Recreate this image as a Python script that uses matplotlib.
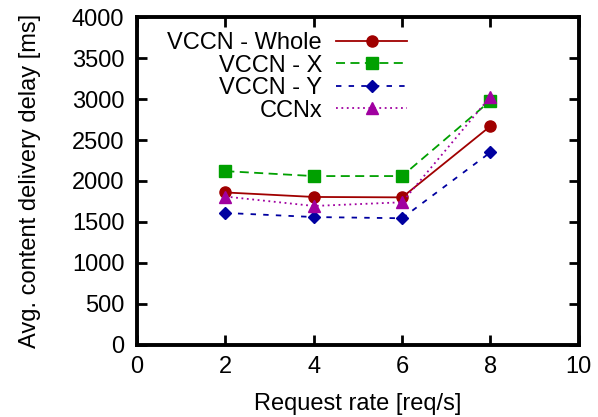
import numpy as np
import matplotlib.pyplot as plt

plt.rcParams['font.family'] = ['Liberation Sans', 'DejaVu Sans']

rate = [2, 4, 6, 8]
whole = [1860, 1805, 1800, 2670]
vx = [2120, 2060, 2060, 2980]
vy = [1610, 1560, 1545, 2350]
ccnx = [1810, 1695, 1740, 3030]

fig = plt.figure(figsize=(5.98, 4.17), dpi=100)
ax = fig.add_axes([0.229, 0.173, 0.739, 0.786])

ax.plot(rate, whole, color='#a00000', ls='-', lw=1.3, marker='o', ms=8, label='VCCN - Whole')
ax.plot(rate, vx, color='#00a000', ls=(0, (5, 3)), lw=1.3, marker='s', ms=8, label='VCCN - X')
ax.plot(rate, vy, color='#0000a0', ls=(0, (3, 4)), lw=1.3, marker='D', ms=6, label='VCCN - Y')
ax.plot(rate, ccnx, color='#a000a0', ls=(0, (1, 2)), lw=1.3, marker='^', ms=8, label='CCNx')

ax.set_xlim(0, 10)
ax.set_ylim(0, 4000)
ax.set_xticks(np.arange(0, 11, 2))
ax.set_yticks(np.arange(0, 4001, 500))
ax.tick_params(direction='in', top=True, right=True, length=7, width=2, labelsize=17)
ax.tick_params(axis='y', pad=9)
ax.tick_params(axis='x', pad=8)
for s in ax.spines.values():
    s.set_linewidth(2.8)

ax.set_xlabel('Request rate [req/s]', fontsize=17, labelpad=11)
ax.set_ylabel('Avg. content delivery delay [ms]', fontsize=17, labelpad=22)

ax.legend(loc='upper right', bbox_to_anchor=(0.638, 0.99), frameon=False, markerfirst=False,
          fontsize=17, handlelength=3.0, labelspacing=0.02, borderpad=0.0, handletextpad=0.6)

fig.savefig('out.png')
